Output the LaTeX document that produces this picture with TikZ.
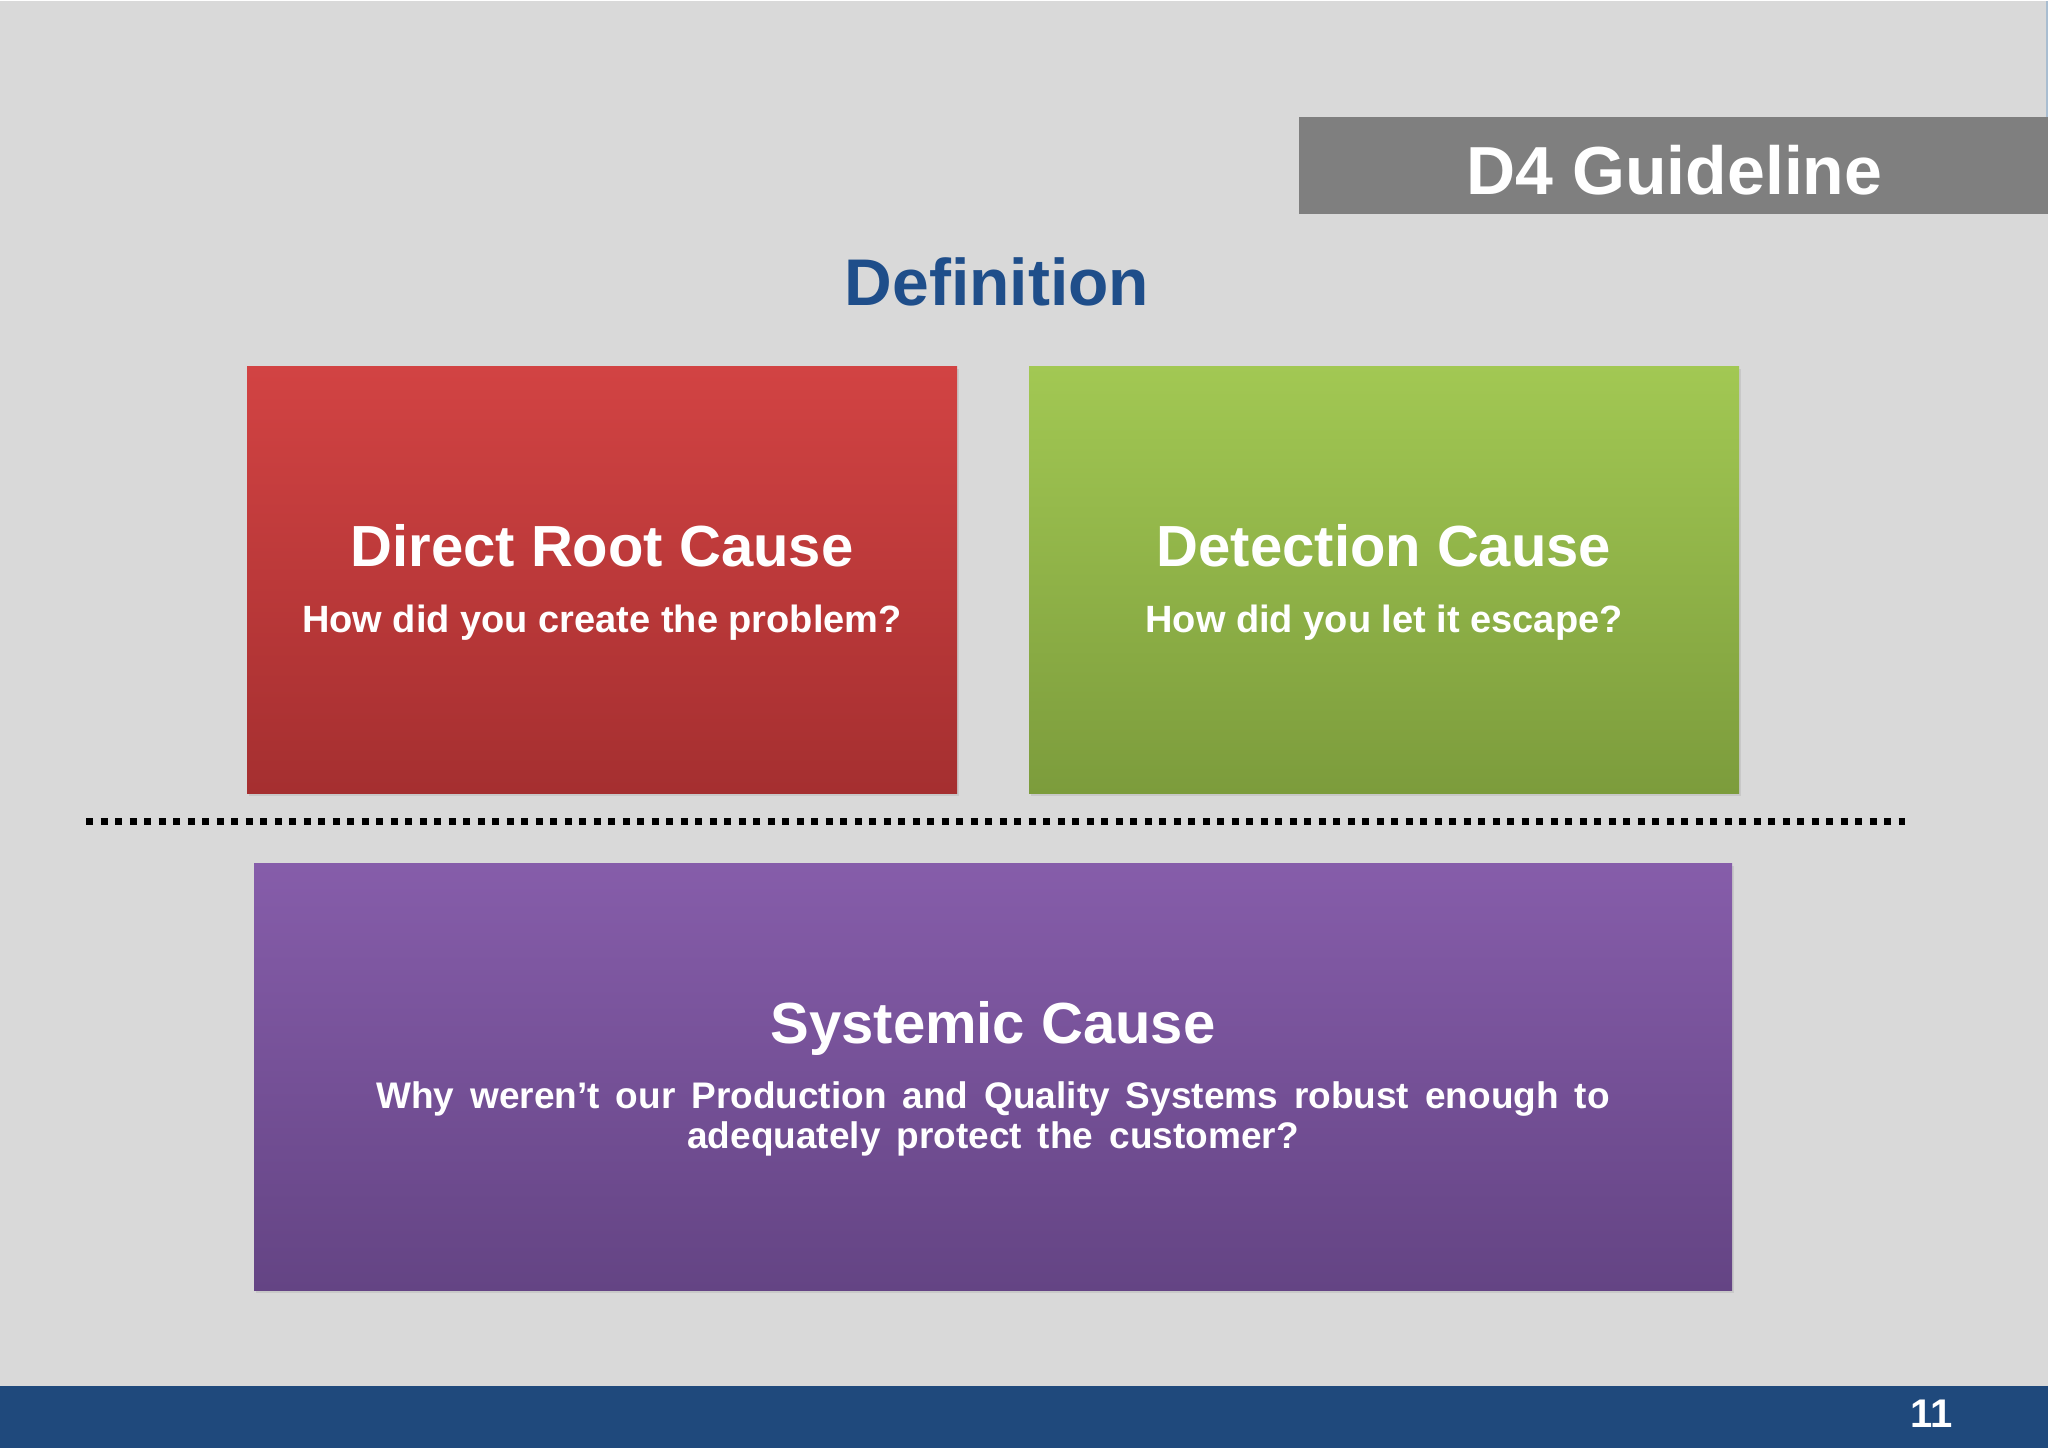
\documentclass[tikz,border=0pt]{standalone}
\usepackage{fontspec}
\setmainfont{Liberation Sans}
\usepackage{tikz}
\usetikzlibrary{shadows}
\usetikzlibrary{positioning}
\definecolor{slidegray}{HTML}{D9D9D9}
\definecolor{bargray}{HTML}{7F7F7F}
\definecolor{edgeblue}{HTML}{A9BDD0}
\definecolor{defblue}{HTML}{1F4E8A}
\definecolor{footblue}{HTML}{1F497C}
\definecolor{redtop}{HTML}{D24343}
\definecolor{redbot}{HTML}{A52F30}
\definecolor{greentop}{HTML}{A2C853}
\definecolor{greenbot}{HTML}{7C9C3C}
\definecolor{purpletop}{HTML}{865DAA}
\definecolor{purplebot}{HTML}{644484}
\newcommand{\widewords}{\spaceskip=16pt\relax}
\tikzset{
  causebox/.style = {rectangle, inner sep = 0pt,
    drop shadow = {opacity = 0.18, shadow xshift = 2pt, shadow yshift = -3pt}},
  causetitle/.style = {text = white, anchor = base, inner sep = 0pt,
    font = \fontsize{58}{58}\selectfont\bfseries},
  causequestion/.style = {text = white, anchor = base, inner sep = 0pt,
    font = \fontsize{38}{40}\selectfont\bfseries},
  dotrule/.style = {line width = 7pt, dash pattern = on 7pt off 7.5pt},
}

\begin{document}
\begin{tikzpicture}[x = 1pt, y = -1pt]
  % slide
  \fill [slidegray] (0,0) rectangle (2048,1447);
  \draw [edgeblue, line width = 2pt] (2047,0) -- (2047,116);
  \node [rectangle, fill = bargray, inner sep = 0pt, minimum width = 749pt,
    minimum height = 97pt] (header) at (1673.5,164.5) {};
  \node [anchor = base, text = white, inner sep = 0pt,
    font = \fontsize{68}{68}\selectfont\bfseries] (headtext) at (1674.5,193) {D4 Guideline};
  \node [anchor = base, text = defblue, inner sep = 0pt,
    font = \fontsize{66}{66}\selectfont\bfseries] (definition) at (997,304) {Definition};
  % boxes
  \node [causebox, top color = redtop, bottom color = redbot,
    minimum width = 710pt, minimum height = 427pt] (direct) at (602,578.5) {};
  \node [causebox, top color = greentop, bottom color = greenbot,
    minimum width = 710pt, minimum height = 427pt] (detect) at (1384,578.5) {};
  \node [causebox, top color = purpletop, bottom color = purplebot,
    minimum width = 1478pt, minimum height = 427pt] (system) at (993,1075.5) {};
  % texts
  \node [causetitle] (directT) at ([yshift = 13.5pt] direct.center) {Direct Root Cause};
  \node [causequestion] (directQ) at ([yshift = -53pt] direct.center) {How did you create the problem?};
  \node [causetitle] (detectT) at ([yshift = 13.5pt] detect.center) {Detection Cause};
  \node [causequestion] (detectQ) at ([yshift = -53pt] detect.center) {How did you let it escape?};
  \node [causetitle] (systemT) at ([yshift = 33.5pt] system.center) {Systemic Cause};
  \node [causequestion, font = {\fontsize{37}{40}\selectfont\bfseries\widewords},
    align = center] (systemQ) at ([yshift = -71.5pt] system.center)
    {Why weren’t our Production and Quality Systems robust enough to\\
     adequately protect the customer?};
  % divider
  \coordinate (dotL) at (86,820.5);
  \coordinate (dotR) at (1905,820.5);
  \draw [dotrule] (dotL) -- (dotR);
  % footer
  \node [rectangle, fill = footblue, inner sep = 0pt, minimum width = 2048pt,
    minimum height = 62pt] (footer) at (1024,1416) {};
  \node [anchor = base, text = white, inner sep = 0pt,
    font = \fontsize{40}{40}\selectfont\bfseries] (page) at (1932,1426) {11};
\end{tikzpicture}
\end{document}
